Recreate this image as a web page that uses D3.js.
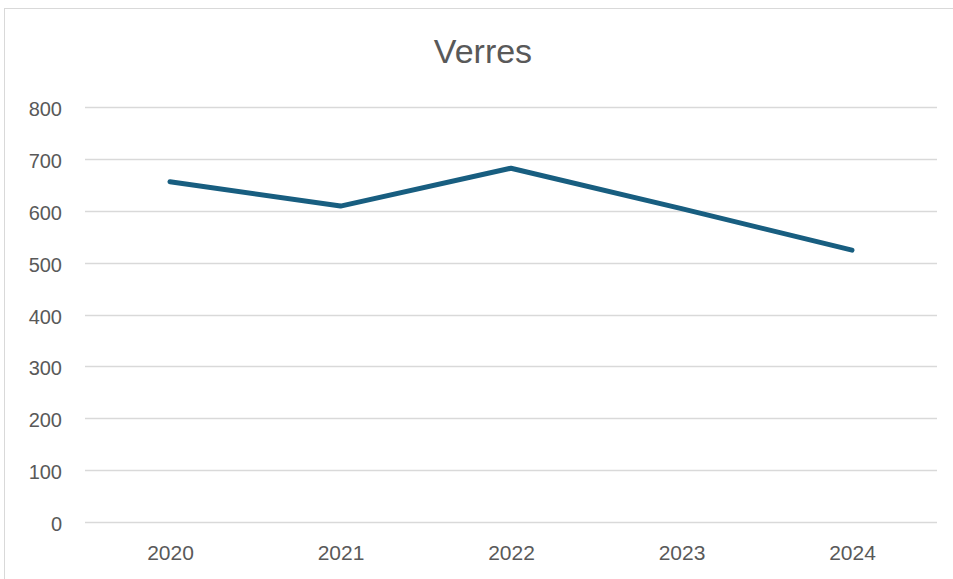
<!DOCTYPE html>
<html><head><meta charset="utf-8">
<script src="https://cdn.jsdelivr.net/npm/d3@7"></script>
<style>body{margin:0;background:#fff}svg{display:block}text{font-family:"Liberation Sans",Arial,sans-serif;fill:#595959}</style>
</head><body>
<script>
const years = ["2020","2021","2022","2023","2024"];
const values = [656, 609, 682, 604, 524];
const yTicks = [0,100,200,300,400,500,600,700,800];
const title = "Verres";

const W=953,H=579;
const svg=d3.select("body").append("svg").attr("width",W).attr("height",H);
svg.append("rect").attr("x",4.5).attr("y",8.5).attr("width",W+10).attr("height",H+10)
  .attr("fill","#fff").attr("stroke","#d9d9d9").attr("stroke-width",1);

const x=d3.scalePoint().domain(years).range([170,852]);
const y=d3.scaleLinear().domain([0,800]).range([522,107]);

const grid=svg.append("g");
grid.selectAll("line").data(yTicks).join("line")
  .attr("x1",85).attr("x2",937).attr("y1",d=>Math.round(y(d))+0.5).attr("y2",d=>Math.round(y(d))+0.5)
  .attr("stroke","#d9d9d9").attr("stroke-width",1.5);

const ya=svg.append("g").attr("transform","translate(62,0)")
  .call(d3.axisLeft(y).tickValues(yTicks).tickSize(0).tickPadding(0));
ya.select(".domain").remove();
ya.selectAll("text").attr("font-size",20).attr("dy",8.5).style("fill","#595959").attr("font-family","Liberation Sans, Arial, sans-serif");

const xa=svg.append("g").attr("transform","translate(0,560)")
  .call(d3.axisBottom(x).tickSize(0).tickPadding(0));
xa.select(".domain").remove();
xa.selectAll("text").attr("font-size",21).style("fill","#595959").attr("font-family","Liberation Sans, Arial, sans-serif").attr("y",0).attr("dy",0);

svg.append("path").datum(values.map((v,i)=>[years[i],v]))
  .attr("fill","none").attr("stroke","#185e80").attr("stroke-width",5)
  .attr("stroke-linecap","round").attr("stroke-linejoin","round")
  .attr("d",d3.line().x(d=>x(d[0])).y(d=>y(d[1])));

svg.append("text").attr("x",483).attr("y",63).attr("text-anchor","middle")
  .attr("font-size",34).text(title);
</script>
</body></html>
